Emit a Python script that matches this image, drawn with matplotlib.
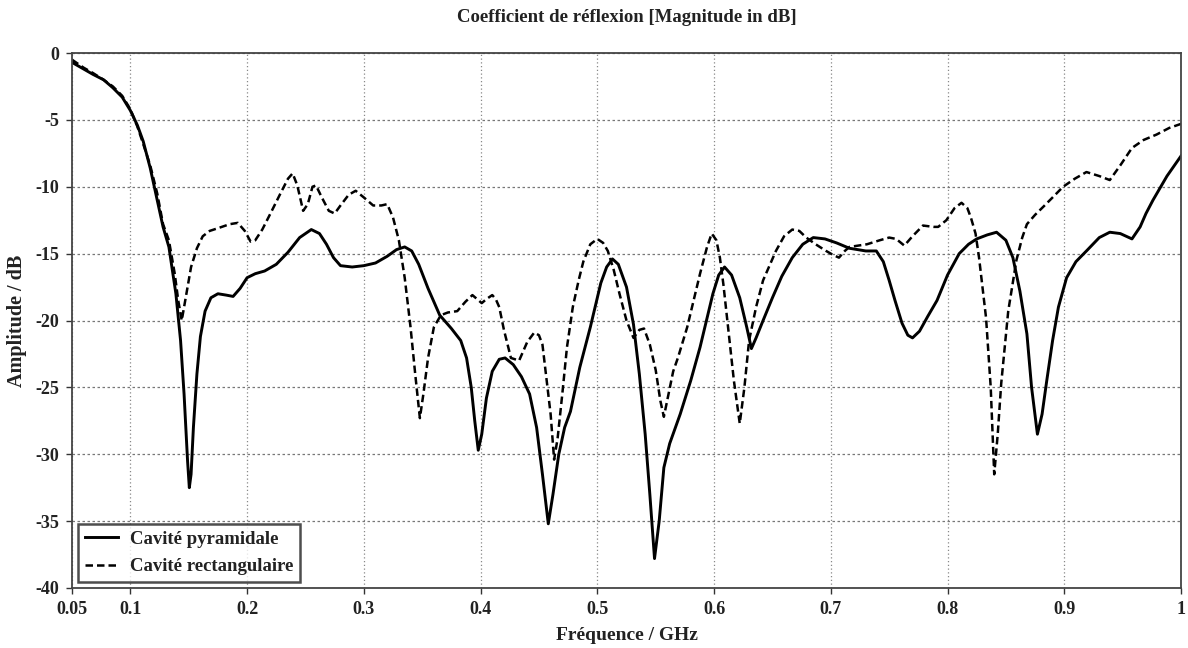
import matplotlib
matplotlib.use("Agg")
import matplotlib.pyplot as plt

# --- data ---
freq_pyr = [0.05, 0.06, 0.068, 0.077, 0.085, 0.093, 0.1, 0.106, 0.111, 0.117, 0.123, 0.128, 0.133,
            0.139, 0.143, 0.146, 0.149, 0.1505, 0.152, 0.154, 0.157, 0.160, 0.164, 0.169, 0.175,
            0.182, 0.188, 0.194, 0.2, 0.207, 0.215, 0.225, 0.235, 0.245, 0.255, 0.262, 0.268,
            0.274, 0.28, 0.29, 0.3, 0.31, 0.32, 0.328, 0.335, 0.341, 0.347, 0.355, 0.365, 0.375,
            0.383, 0.388, 0.392, 0.395, 0.398, 0.401, 0.405, 0.41, 0.416, 0.421, 0.428, 0.435,
            0.442, 0.448, 0.453, 0.458, 0.462, 0.467, 0.472, 0.477, 0.485, 0.494, 0.503, 0.508,
            0.513, 0.518, 0.525, 0.531, 0.536, 0.541, 0.545, 0.549, 0.553, 0.557, 0.562, 0.571,
            0.58, 0.588, 0.594, 0.599, 0.604, 0.609, 0.615, 0.622, 0.628, 0.632, 0.636, 0.642,
            0.65, 0.658, 0.667, 0.676, 0.685, 0.695, 0.705, 0.716, 0.73, 0.739, 0.745, 0.75,
            0.755, 0.761, 0.766, 0.77, 0.776, 0.783, 0.791, 0.8, 0.81, 0.818, 0.825, 0.834, 0.842,
            0.85, 0.856, 0.862, 0.868, 0.872, 0.877, 0.881, 0.885, 0.89, 0.895, 0.902, 0.91,
            0.919, 0.93, 0.939, 0.948, 0.958, 0.965, 0.97, 0.976, 0.988, 1.0]
db_pyr = [-0.7, -1.2, -1.6, -2.0, -2.6, -3.3, -4.3, -5.4, -6.6, -8.6, -11.0, -13.0, -14.5,
          -18.0, -21.5, -25.5, -30.5, -32.5, -31.5, -28.0, -24.0, -21.2, -19.3, -18.3, -18.0,
          -18.1, -18.2, -17.6, -16.8, -16.5, -16.3, -15.8, -14.9, -13.8, -13.2, -13.5, -14.3,
          -15.3, -15.9, -16.0, -15.9, -15.7, -15.2, -14.7, -14.5, -14.8, -15.8, -17.6, -19.6, -20.6,
          -21.5, -22.8, -25.0, -27.5, -29.7, -28.5, -25.8, -23.8, -22.9, -22.8, -23.3, -24.2,
          -25.5, -28.0, -31.5, -35.2, -33.0, -30.0, -28.0, -26.8, -23.5, -20.5, -17.2, -16.0,
          -15.4, -15.8, -17.5, -20.3, -24.0, -28.5, -33.0, -37.8, -35.0, -31.0, -29.2, -27.0,
          -24.5, -22.0, -19.8, -18.0, -16.6, -16.0, -16.6, -18.3, -20.5, -22.1, -21.3, -20.0,
          -18.3, -16.7, -15.3, -14.3, -13.8, -13.9, -14.2, -14.6, -14.8, -14.8, -15.6, -17.0,
          -18.5, -20.2, -21.1, -21.3, -20.8, -19.7, -18.5, -16.6, -15.0, -14.3, -13.9, -13.6, -13.4,
          -14.0, -15.3, -17.8, -21.0, -25.0, -28.5, -27.0, -24.5, -21.5, -19.0, -16.8, -15.6,
          -14.8, -13.8, -13.4, -13.5, -13.9, -13.0, -12.0, -11.0, -9.2, -7.7]

freq_rect = [0.05, 0.06, 0.068, 0.077, 0.085, 0.093, 0.1, 0.106, 0.111, 0.117, 0.123, 0.128,
             0.133, 0.138, 0.141, 0.144, 0.148, 0.152, 0.157, 0.162, 0.168, 0.175, 0.185, 0.192,
             0.198, 0.203, 0.207, 0.213, 0.22, 0.228, 0.235, 0.239, 0.243, 0.248, 0.252, 0.256,
             0.259, 0.264, 0.27, 0.275, 0.28, 0.287, 0.293, 0.3, 0.308, 0.315, 0.32, 0.325, 0.33,
             0.335, 0.34, 0.344, 0.348, 0.351, 0.355, 0.36, 0.366, 0.372, 0.38, 0.387, 0.393,
             0.397, 0.401, 0.405, 0.41, 0.413, 0.416, 0.42, 0.426, 0.433, 0.44, 0.446, 0.45,
             0.453, 0.456, 0.46, 0.463, 0.466, 0.47, 0.474, 0.479, 0.484, 0.488, 0.494, 0.5,
             0.505, 0.509, 0.514, 0.519, 0.525, 0.531, 0.536, 0.54, 0.545, 0.55, 0.554, 0.557,
             0.561, 0.565, 0.569, 0.577, 0.583, 0.588, 0.594, 0.598, 0.602, 0.605, 0.608, 0.612,
             0.617, 0.622, 0.626, 0.63, 0.636, 0.642, 0.653, 0.66, 0.667, 0.673, 0.679, 0.687,
             0.696, 0.702, 0.707, 0.712, 0.716, 0.731, 0.742, 0.75, 0.756, 0.763, 0.77, 0.779,
             0.788, 0.792, 0.799, 0.806, 0.812, 0.817, 0.82, 0.824, 0.827, 0.833, 0.837, 0.84,
             0.843, 0.846, 0.852, 0.859, 0.864, 0.868, 0.875, 0.882, 0.89, 0.899, 0.909, 0.919,
             0.93, 0.939, 0.948, 0.958, 0.968, 0.979, 0.99, 1.0]
db_rect = [-0.5, -1.1, -1.5, -2.0, -2.5, -3.2, -4.2, -5.5, -6.8, -8.4, -10.5, -12.8,
           -14.0, -16.5, -18.5, -20.0, -18.0, -16.0, -14.6, -13.7, -13.3, -13.1, -12.8, -12.7,
           -13.3, -14.1, -14.0, -13.2, -12.0, -10.6, -9.4, -9.0, -9.9, -11.8, -11.3, -10.0,
           -9.9, -10.8, -11.8, -12.0, -11.4, -10.6, -10.3, -10.8, -11.4, -11.4, -11.3, -12.3, -14.0,
           -16.8, -20.5, -24.0, -27.3, -25.5, -22.8, -20.5, -19.6, -19.4, -19.3, -18.6, -18.1,
           -18.4, -18.7, -18.4, -18.1, -18.4, -19.0, -20.7, -22.8, -23.0, -21.6, -20.9, -21.1,
           -21.8, -24.0, -27.0, -30.4, -28.8, -25.5, -22.0, -19.0, -17.0, -15.6, -14.3, -13.9,
           -14.2, -14.8, -16.2, -18.0, -20.0, -21.3, -20.7, -20.6, -21.8, -23.7, -26.0, -27.2,
           -25.5, -23.8, -22.8, -20.5, -18.3, -16.5, -14.5, -13.5, -14.0, -15.3, -17.3, -20.5,
           -24.5, -27.7, -25.0, -21.5, -19.0, -17.0, -14.8, -13.7, -13.2, -13.3, -13.8, -14.3,
           -14.8, -15.1, -15.3, -14.8, -14.5, -14.3, -14.0, -13.8, -13.9, -14.4, -13.7, -12.9,
           -13.0, -13.0, -12.5, -11.6, -11.2, -11.6, -12.3, -13.5, -15.3, -19.8, -25.0, -31.5,
           -28.5, -24.7, -19.3, -15.5, -13.8, -12.8, -12.1, -11.5, -10.8, -10.0, -9.4, -8.9,
           -9.2, -9.5, -8.4, -7.1, -6.5, -6.1, -5.6, -5.3]

x_ticks = [0.05, 0.1, 0.2, 0.3, 0.4, 0.5, 0.6, 0.7, 0.8, 0.9, 1.0]
x_ticklabels = ["0.05", "0.1", "0.2", "0.3", "0.4", "0.5", "0.6", "0.7", "0.8", "0.9", "1"]
y_ticks = [0, -5, -10, -15, -20, -25, -30, -35, -40]
y_ticklabels = ["0", "-5", "-10", "-15", "-20", "-25", "-30", "-35", "-40"]

title = "Coefficient de réflexion [Magnitude in dB]"
xlabel = "Fréquence / GHz"
ylabel = "Amplitude / dB"
labels = ["Cavité pyramidale", "Cavité rectangulaire"]

plt.rcParams["font.family"] = ["Liberation Serif", "DejaVu Serif"]
plt.rcParams["font.weight"] = "bold"

fig = plt.figure(figsize=(11.88, 6.48), dpi=100)
ax = fig.add_axes([72 / 1188, 1 - 588 / 648, (1181 - 72) / 1188, (588 - 53) / 648])

ax.plot(freq_pyr, db_pyr, color="black", lw=2.1, ls="-", label=labels[0],
        solid_joinstyle="round")
ax.plot(freq_rect, db_rect, color="black", lw=1.8, ls=(0, (3.0, 1.6)), label=labels[1],
        dash_joinstyle="round")

ax.set_xlim(0.05, 1.0)
ax.set_ylim(-40, 0)
ax.set_xticks(x_ticks)
ax.set_xticklabels(x_ticklabels, fontsize=13, fontweight="bold")
ax.set_yticks(y_ticks)
ax.set_yticklabels(y_ticklabels, fontsize=13, fontweight="bold")
ax.tick_params(direction="out", length=4, width=1, colors="#333333", labelcolor="#222222", pad=5)

ax.xaxis.grid(True, color="#888888", ls=(0, (1, 2)), lw=0.9)
ax.yaxis.grid(True, color="#777777", ls=(0, (2, 2)), lw=0.9)
ax.set_axisbelow(True)
for s in ax.spines.values():
    s.set_color("#444444")
    s.set_linewidth(1.3)

ax.set_title(title, fontsize=13.5, fontweight="bold", pad=22, color="#222222")
ax.set_xlabel(xlabel, fontsize=14, fontweight="bold", labelpad=7, color="#222222")
ax.set_ylabel(ylabel, fontsize=14.5, fontweight="bold", labelpad=6, color="#222222")

leg = ax.legend(loc="lower left", frameon=True, fancybox=False,
                edgecolor="#222222", fontsize=13.5, handlelength=1.8, handletextpad=0.65,
                borderpad=0.35, labelspacing=0.55, borderaxespad=0.32)
leg.get_frame().set_linewidth(1.8)
for t in leg.get_texts():
    t.set_fontweight("bold")
    t.set_color("#222222")

fig.savefig("out.png", dpi=100)
